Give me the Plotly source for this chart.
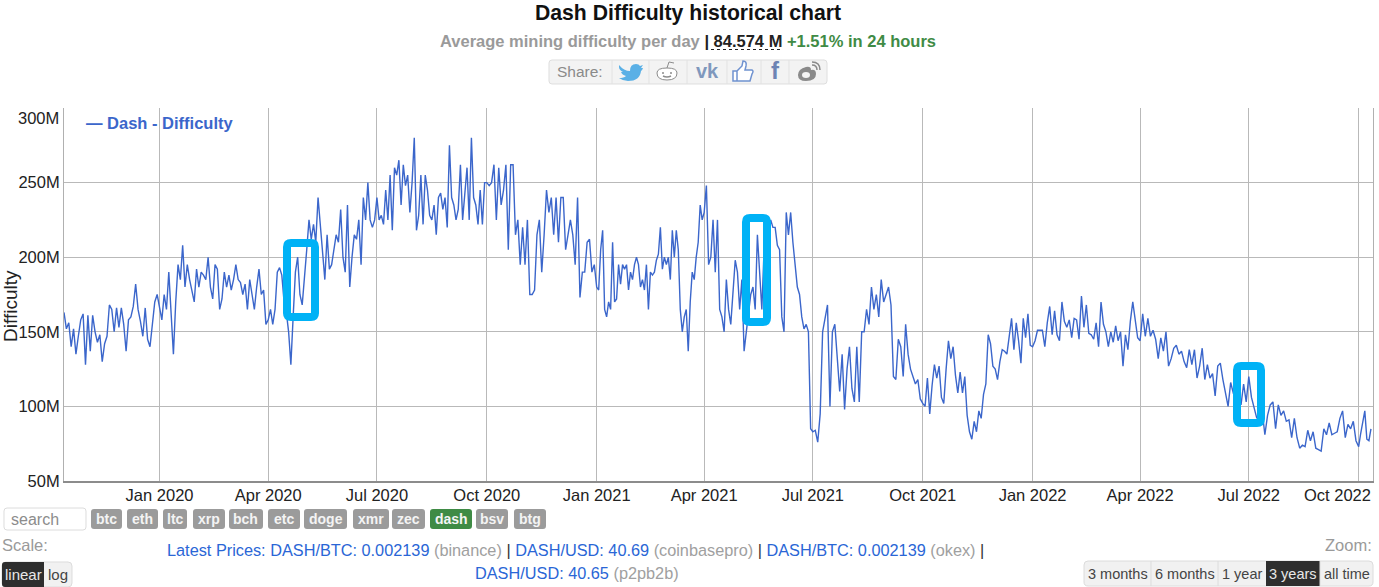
import pandas as pd
import plotly.graph_objects as go

W, H = 1379, 587
FONT = "Liberation Sans"

# difficulty in millions
q4_2019 = [163,152,156,140,152,135,147,158,162,128,161,137,161,150,143,148,130,142,147,168,165,150,166,153,166,155,137,158,160,167,182,165,157,147,166,145,140,157,170,175]
q1_2020 = [165,158,175,165,190,165,135,170,195,185,208,180,195,185,178,170,192,180,190,188,185,200,180,172,195,192,165,172,190,180,188,178,185,195,185,183,175,182,165,185,175,165,180,192,175,178,155]
q2_2020 = [158,165,155,165,190,193,188,170,163,150,128,160,190,200,175,168,190,205,225,212,222,210,240,220,205,185,215,192,195,205,215,210,232,200,190,235,180,200,215,212,225,195,240,225,250,225,220,225]
q3_2020 = [240,225,228,222,245,225,255,218,260,255,265,235,262,248,255,230,250,280,218,228,255,222,255,245,228,225,235,215,240,243,232,240,220,275,240,235,225,232,262,225,240,260,225,280,240,235,222,245,222,250]
q4_2020 = [250,248,250,262,225,260,235,245,262,205,262,262,215,225,195,220,195,225,175,175,178,215,225,190,215,245,230,240,215,240,210,240,240,205,215,225,215,195,240,173,190,190,210,212,190,195]
q1_2021 = [180,178,205,218,165,160,170,165,210,170,172,195,182,195,192,195,178,190,185,195,200,195,180,185,178,195,165,190,188,190,198,202,220,192,200,195,200,185,218,200,218,205,165,150,160,165,137,170,190,185,200,210,235,225]
q2_2021 = [230,248,195,200,225,190,225,165,160,150,185,165,155,180,198,190,165,185,137,150,165,175,180,165,215,190,165,205,210,215,225,220,220,208,205,160,150,230,215,230,210,195,180,175,160,152,155,150,85]
q3_2021 = [83,84,76,95,150,160,168,100,150,155,130,110,135,98,125,140,112,103,140,103,150,150,165,155,180,165,175,160,185,170,175,180,168,120,118,145,140,120,155,135,125,120,115,118,105]
q4_2021 = [102,100,119,95,114,128,119,127,106,102,125,144,132,140,121,109,123,109,120,94,83,78,90,83,97,92,108,115,148,142,127,125,118,130,138,137,135,148,159,138,156,144,129,159,146,162,141]
q1_2022 = [140,144,151,151,151,140,156,167,148,164,148,144,170,157,153,158,146,159,158,145,174,153,168,149,148,145,156,140,170,155,150,140,150,143,154,144,150,127,148,138,157,170,158,146]
q2_2022 = [144,162,147,159,147,151,145,132,146,137,150,127,132,139,141,135,137,130,126,138,128,138,119,127,139,118,128,119,122,107,127,129,118,108,100,116,109,110,115,101,115,103]
q3_2022 = [120,106,99,92,95,97,81,94,101,103,85,101,94,97,90,91,79,92,79,72,74,73,84,77,83,72,71,70,85,81,89,81,82,83,92,97,79,88,85,90,77]
q4_2022 = [73,82,90,97,78,77,85]

quarters = [q4_2019, q1_2020, q2_2020, q3_2020, q4_2020, q1_2021, q2_2021, q3_2021, q4_2021, q1_2022, q2_2022, q3_2022, q4_2022]
quarter_edges = ["2019-10-13", "2020-01-01", "2020-04-01", "2020-07-01", "2020-10-01", "2021-01-01", "2021-04-01",
                 "2021-07-01", "2021-10-01", "2022-01-01", "2022-04-01", "2022-07-01", "2022-10-01", "2022-10-13"]

tick_dates = quarter_edges[1:-1]
# the last x label and the top y label sit off their ticks in the original, they are placed by hand below
tick_labels = ["Jan 2020", "Apr 2020", "Jul 2020", "Oct 2020", "Jan 2021", "Apr 2021", "Jul 2021", "Oct 2021",
               "Jan 2022", "Apr 2022", "Jul 2022", ""]
y_ticks = [50, 100, 150, 200, 250, 300]
y_labels = ["50M", "100M", "150M", "200M", "250M", ""]

coins = ["btc", "eth", "ltc", "xrp", "bch", "etc", "doge", "xmr", "zec", "dash", "bsv", "btg"]
coin_x = [(91,122), (127,158), (163,187), (193,225), (229,263), (268,300), (304,347), (353,389), (392,425), (430,472), (476,508), (514,546)]
zoom_names = ["3 months", "6 months", "1 year", "3 years", "all time"]
zoom_x = [(1084,1151), (1151,1218), (1218,1266), (1266,1320), (1320,1373)]
# highlight boxes drawn over the chart
boxes = [(287,243,315,317), (746,218,767,322), (1237,366,1261,423)]

dates, values = [], []
for i, q in enumerate(quarters):
    dates += list(pd.date_range(quarter_edges[i], quarter_edges[i + 1], periods=len(q) + 1)[:-1])
    values += q

fig = go.Figure(go.Scatter(x=dates, y=values, mode="lines", name="Dash - Difficulty",
                           line=dict(color="#3b66cb", width=1.4)))


# everything outside the plot is placed in page pixels
def px_path(d):
    out, use_x = [], True
    for tok in d.split():
        if tok.isalpha():
            out.append(tok)
        else:
            out.append(f"{float(tok) / W:.5f}" if use_x else f"{1 - float(tok) / H:.5f}")
            use_x = not use_x
    return " ".join(out)


def rrect(x0, y0, x1, y1, r):
    return (f"M {x0+r} {y0} L {x1-r} {y0} Q {x1} {y0} {x1} {y0+r} L {x1} {y1-r} Q {x1} {y1} {x1-r} {y1} "
            f"L {x0+r} {y1} Q {x0} {y1} {x0} {y1-r} L {x0} {y0+r} Q {x0} {y0} {x0+r} {y0} Z")


def shape(d, fill="rgba(0,0,0,0)", line="rgba(0,0,0,0)", width=1, dash=None):
    fig.add_shape(type="path", path=px_path(d), xref="paper", yref="paper", fillcolor=fill,
                  line=dict(color=line, width=width, dash=dash), layer="above")


def label(x, y, text, size=15, color="#333", anchor="center", angle=0):
    fig.add_annotation(x=x / W, y=1 - y / H, xref="paper", yref="paper", text=text, showarrow=False,
                       xanchor=anchor, yanchor="middle", borderpad=0, textangle=angle,
                       font=dict(family=FONT, size=size, color=color))


# header
label(688, 13, "<b>Dash Difficulty historical chart</b>", 21.2, "#111")
label(688, 41, '<b><span style="color:#9a9a9a">Average mining difficulty per day</span> '
               '<span style="color:#222">| 84.574 M</span> '
               '<span style="color:#3f8b45">+1.51% in 24 hours</span></b>', 16.5)
shape("M 711 49.5 L 780 49.5", line="#222", width=1, dash="dot")

# share buttons
shape(rrect(549, 60, 827, 84, 3), fill="#f3f3f3", line="#dedede")
for sx in [612, 649, 687, 727, 761, 789]:
    shape(f"M {sx} 60 L {sx} 84", line="#e2e2e2")
label(580, 72, "Share:", 15.5, "#8a8a8a")
shape("M 619 65 Q 624 71 630 71 Q 630 64 636 64 Q 639 64 640 66 L 643 65 L 641 68 L 643 68 Q 642 71 641 71 "
      "Q 640 81 628 81 Q 623 81 619 78 Q 624 78 626 76 Q 622 75 621 72 L 623 72 Q 619 70 619 67 Z", fill="#5ab0e6")
shape("M 657 73 Q 657 68 667 68 Q 677 68 677 73 Q 677 80 667 80 Q 657 80 657 73 Z", fill="#fff", line="#8c8c8c")
shape("M 667 68 L 669 62 L 674 63", line="#8c8c8c")
shape("M 662 73 L 664 73 M 670 73 L 672 73 M 663 76 Q 667 78 671 76", line="#8c8c8c", width=1.5)
label(707, 71, "<b>vk</b>", 20, "#7f98bd")
shape("M 733 71 L 737 71 L 737 81 L 733 81 Z M 737 71 L 742 66 L 743 61 Q 747 61 746 66 L 745 70 L 752 70 "
      "Q 754 71 752 74 L 750 81 L 737 81", fill="#fff", line="#6f92d0", width=1.5)
label(775, 71, "<b>f</b>", 24, "#6d84b4")
shape("M 798 75 Q 798 69 806 67 Q 811 66 811 70 Q 816 69 816 74 Q 816 81 806 81 Q 798 81 798 75 Z", fill="#8a8a8a")
shape("M 802 75 Q 802 72 806 72 Q 810 72 810 75 Q 810 78 806 78 Q 802 78 802 75 Z", fill="#f3f3f3")
shape("M 812 65 Q 817 65 817 70 M 812 62 Q 820 62 820 70", line="#8a8a8a", width=1.5)

# legend, axis title and the two shifted tick labels
label(85, 123, "<b>— Dash - Difficulty</b>", 16.5, "#3b66cb", "left")
label(10, 306, "Difficulty", 19, "#222", angle=-90)
label(1372, 495, "Oct 2022", 16.5, "#222", "right")
label(60, 118, "300M", 16.5, "#222", "right")

# row under the chart
shape(rrect(4, 508, 86, 530, 3), fill="#fff", line="#dcdcdc")
label(10, 519, "search", 16, "#8c8c8c", "left")
for name, (x0, x1) in zip(coins, coin_x):
    shape(rrect(x0, 509, x1, 529, 3), fill="#3f8b45" if name == "dash" else "#9b9b9b")
    label((x0 + x1) / 2, 518.5, f"<b>{name}</b>", 14, "#f4f4f4")

label(1, 545, "Scale:", 16.5, "#9a9a9a", "left")
shape(rrect(2, 562, 72, 587, 4), fill="#f1f1f1", line="#dcdcdc")
shape("M 5 562 L 44 562 L 44 587 L 5 587 Q 2 587 2 584 L 2 565 Q 2 562 5 562 Z", fill="#2e2e2e")
label(23, 574, "linear", 15, "#e8e8e8")
label(58, 574, "log", 15, "#444")

blue, gray = "#2a66d6", "#a0a0a0"
label(575, 550, f'<span style="color:{blue}">Latest Prices: DASH/BTC: 0.002139</span> '
                f'<span style="color:{gray}">(binance)</span> <span style="color:#333">|</span> '
                f'<span style="color:{blue}">DASH/USD: 40.69</span> <span style="color:{gray}">(coinbasepro)</span> '
                f'<span style="color:#333">|</span> <span style="color:{blue}">DASH/BTC: 0.002139</span> '
                f'<span style="color:{gray}">(okex)</span> <span style="color:#333">|</span>', 16.3)
label(577, 573, f'<span style="color:{blue}">DASH/USD: 40.65</span> <span style="color:{gray}">(p2pb2b)</span>', 16.3)

label(1373, 545, "Zoom:", 16.5, "#9a9a9a", "right")
shape(rrect(1084, 561, 1373, 586, 4), fill="#f1f1f1", line="#dcdcdc")
for name, (x0, x1) in zip(zoom_names, zoom_x):
    if name == "3 years":
        shape(f"M {x0} 561 L {x1} 561 L {x1} 586 L {x0} 586 Z", fill="#2e2e2e")
    elif x0 != 1084:
        shape(f"M {x0} 561 L {x0} 586", line="#dcdcdc")
    label((x0 + x1) / 2, 574, name, 14.5, "#e8e8e8" if name == "3 years" else "#444")

for x0, y0, x1, y1 in boxes:
    shape(rrect(x0, y0, x1, y1, 4), line="#00b2f6", width=8)

fig.update_layout(
    width=W, height=H, margin=dict(l=0, r=0, t=0, b=0, autoexpand=False), autosize=False,
    paper_bgcolor="white", plot_bgcolor="white",
    font=dict(family=FONT, color="#222"),
    showlegend=False,
    xaxis=dict(domain=[64 / W, 1373 / W], range=["2019-10-13", "2022-10-13"], tickvals=tick_dates, ticktext=tick_labels,
               showgrid=True, gridcolor="#b9b9b9", gridwidth=1, zeroline=False, showline=True, linecolor="#8c8c8c",
               linewidth=2, ticks="", ticklabelstandoff=-2, tickfont=dict(size=16.5)),
    yaxis=dict(domain=[1 - 481 / H, 1 - 108 / H], range=[50, 300], tickvals=y_ticks, ticktext=y_labels,
               showgrid=True, gridcolor="#b9b9b9", gridwidth=1, zeroline=False, showline=True, linecolor="#b0b0b0",
               linewidth=1, mirror=True, tickfont=dict(size=16.5)),
)

fig.write_html("out.html", config=dict(displayModeBar=False),
               post_script="document.body.style.margin='0';document.body.style.overflow='hidden';")
